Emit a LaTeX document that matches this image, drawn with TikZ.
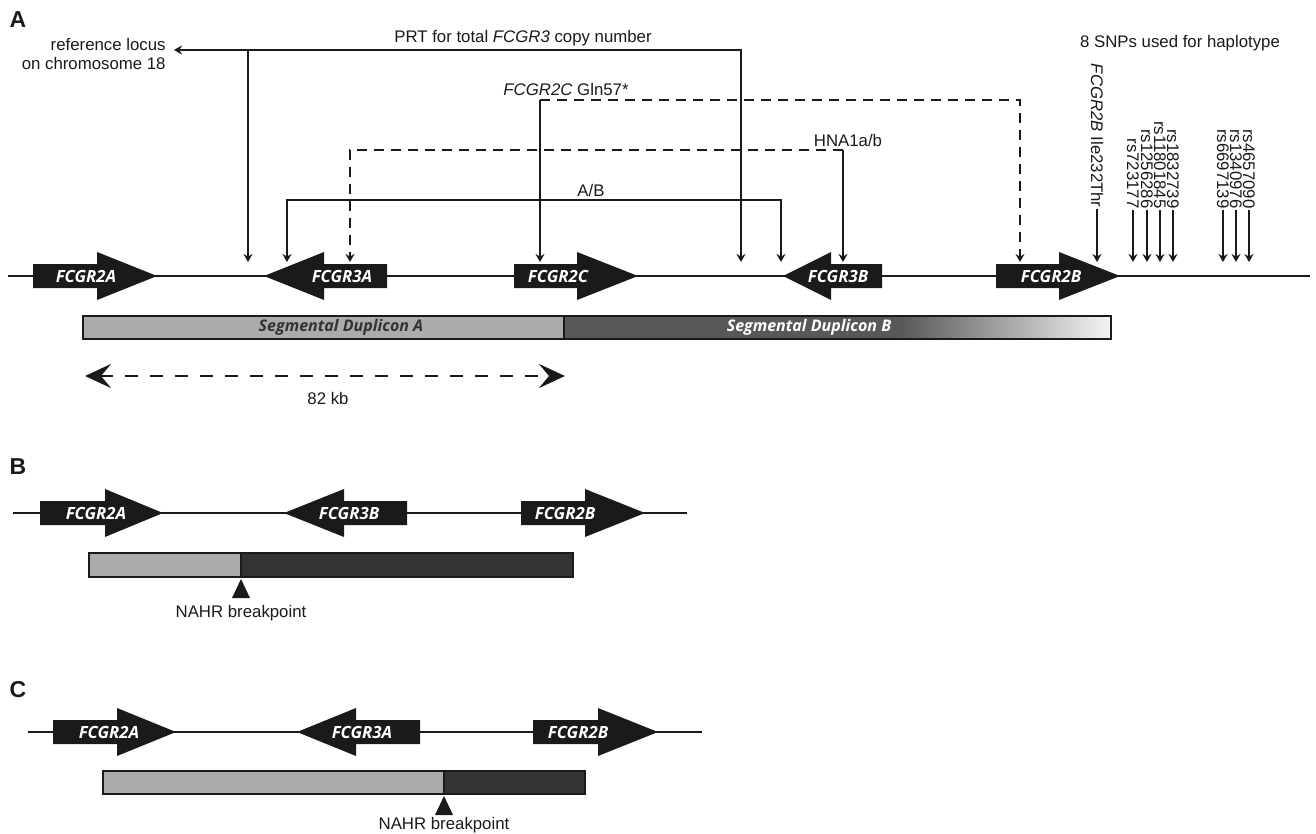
\documentclass[tikz,border=0pt]{standalone}
\usepackage{fontspec}
\setmainfont{Liberation Sans}
\newfontfamily\genefont{Open Sans}
\usetikzlibrary{arrows.meta}
\usetikzlibrary{positioning}
\usetikzlibrary{calc, shapes}

\definecolor{ink}{HTML}{1A1A1A}
\definecolor{dupA}{HTML}{ABABAB}
\definecolor{dupB}{HTML}{585858}
\definecolor{dupFade}{HTML}{F4F4F4}
\definecolor{dupDark}{HTML}{333333}
\definecolor{dupText}{HTML}{333333}

% gene arrow: name, tail, head base, tip, y, label x, label
\newcommand{\genearrow}[7]{%
  \fill[ink] (#2,#5-12) -- (#3,#5-12) -- (#3,#5-24) -- (#4,#5)
    -- (#3,#5+24) -- (#3,#5+12) -- (#2,#5+12) -- cycle;
  \node[gene node] (#1) at (#6,#5) {#7};}

\begin{document}
\begin{tikzpicture}[x=0.5pt,y=-0.5pt]
\tikzstyle{txt}=[font=\fontsize{8.4}{9.4}\selectfont,text=ink,inner sep=1pt]
\tikzstyle{panel}=[font=\bfseries\fontsize{11.5}{12}\selectfont,text=ink,inner sep=0]
\tikzstyle{snp}=[font=\fontsize{8.4}{9.4}\selectfont,text=ink,inner sep=0.5pt,rotate=-90]
\tikzset{
  >={Stealth[length=4pt,width=4.5pt]},
  gene node/.style = {font=\genefont\bfseries\itshape\fontsize{8.4}{9}\selectfont,text=white,inner sep=0},
  dup label/.style = {font=\genefont\bfseries\itshape\fontsize{8}{9}\selectfont,inner sep=0},
  chrom/.style = {draw=ink,line width=1.2pt},
  link/.style = {draw=ink,line width=0.7pt},
  dlink/.style = {link,dash pattern=on 5pt off 3.5pt},
  barline/.style = {draw=ink,line width=1.1pt},
  kb arrow/.style = {draw=ink,line width=1.3pt,dash pattern=on 6.5pt off 6pt,
    {Stealth[length=13pt,width=12pt,inset=5pt]}-{Stealth[length=13pt,width=12pt,inset=5pt]}}
}
\useasboundingbox (0,0) rectangle (1316,834);

%%%%%%%%%%%%%%%%%%%%%%%%%%%%%%%%%%% panel A
    \node[panel] (lblA) at (18,20) {A};
    \coordinate (chrA0) at (8,276);
    \coordinate (chrA1) at (1310,276);
    \draw[chrom] (chrA0) -- (chrA1);

    \genearrow{a2a}{33}{97}{157}{276}{86}{FCGR2A}
    \genearrow{a3a}{387}{324}{264}{276}{342}{FCGR3A}
    \genearrow{a2c}{514}{577}{638}{276}{558}{FCGR2C}
    \genearrow{a3b}{882}{831}{783}{276}{838}{FCGR3B}
    \genearrow{a2b}{996}{1059}{1120}{276}{1051}{FCGR2B}

    % duplicons
    \fill[dupA] (83,316) rectangle (564,339);
    \fill[dupB] (564,316) rectangle (900,339);
    \shade[left color=dupB,right color=dupFade] (900,316) rectangle (1111,339);
    \draw[barline] (83,316) rectangle (1111,339);
    \draw[barline] (564,316) -- (564,339);
    \node[dup label,text=dupText] (dupa) at (341,327.5) {Segmental Duplicon A};
    \node[dup label,text=white]   (dupb) at (809,327.5) {Segmental Duplicon B};

    \coordinate (kbL) at (85,376);
    \coordinate (kbR) at (565,376);
    \draw[kb arrow] (kbL) -- (kbR);
    \node[txt] (kb) at (328,398) {82 kb};

    %%%%%%%%%%%%%%%%%%%%%%%%%%%%%%%%%%% assays
    \node[txt,align=right,anchor=east] (ref) at (168,54) {reference locus\\on chromosome 18};
    \node[txt] (prt) at (523,38) {PRT for total \textit{FCGR3} copy number};
    \node[txt] (gln) at (566,89) {\textit{FCGR2C} Gln57*};
    \node[txt] (hna) at (848,140) {HNA1a/b};
    \node[txt] (ab)  at (591,190) {A/B};
    \node[txt] (snps) at (1180,43) {8 SNPs used for haplotype};

    \coordinate (refT) at (174,50);
    \coordinate (prtA) at (248,50);   \coordinate (prtAt) at (248,262);
    \coordinate (prtB) at (741,50);   \coordinate (prtBt) at (741,262);
    \coordinate (glnA) at (540,100);  \coordinate (glnAt) at (540,262);
    \coordinate (glnB) at (1020,100); \coordinate (glnBt) at (1020,262);
    \coordinate (hnaA) at (350,150);  \coordinate (hnaAt) at (350,262);
    \coordinate (hnaB) at (843,150);  \coordinate (hnaBt) at (843,262);
    \coordinate (abA) at (287,200);   \coordinate (abAt) at (287,262);
    \coordinate (abB) at (781,200);   \coordinate (abBt) at (781,262);

    \draw[link,<->] (refT) -- (prtB) -- (prtBt);
    \draw[link,->] (prtA) -- (prtAt);
    \draw[link,->] (glnA) -- (glnAt);
    \draw[dlink,->] (glnA) -- (glnB) -- (glnBt);
    \draw[dlink,->] (hnaB) -- (hnaA) -- (hnaAt);
    \draw[link,->] (hnaB) -- (hnaBt);
    \draw[link,<->] (abAt) -- (abA) -- (abB) -- (abBt);

    %%%%%%%%%%%%%%%%%%%%%%%%%%%%%%%%%%% SNPs
    \node[snp,anchor=east] (ile) at (1097,209) {\textit{FCGR2B} Ile232Thr};
    \node[snp,anchor=east] (s1) at (1133,210) {rs723177};
    \node[snp,anchor=east] (s2) at (1147,210) {rs1256286};
    \node[snp,anchor=east] (s3) at (1160,210) {rs11801845};
    \node[snp,anchor=east] (s4) at (1173,210) {rs1832739};
    \node[snp,anchor=east] (s5) at (1223,210) {rs6697139};
    \node[snp,anchor=east] (s6) at (1236,210) {rs1340976};
    \node[snp,anchor=east] (s7) at (1249,210) {rs4657090};
    \coordinate (ilet) at (1097,262);
    \coordinate (s1t) at (1133,262);
    \coordinate (s2t) at (1147,262);
    \coordinate (s3t) at (1160,262);
    \coordinate (s4t) at (1173,262);
    \coordinate (s5t) at (1223,262);
    \coordinate (s6t) at (1236,262);
    \coordinate (s7t) at (1249,262);
    \path
         (ile.east) edge[link,->] (ilet)
         (s1.east) edge[link,->] (s1t)
         (s2.east) edge[link,->] (s2t)
         (s3.east) edge[link,->] (s3t)
         (s4.east) edge[link,->] (s4t)
         (s5.east) edge[link,->] (s5t)
         (s6.east) edge[link,->] (s6t)
         (s7.east) edge[link,->] (s7t);

%%%%%%%%%%%%%%%%%%%%%%%%%%%%%%%%%%% panel B
    \node[panel] (lblB) at (18,467) {B};
    \coordinate (chrB0) at (13,513);
    \coordinate (chrB1) at (687,513);
    \draw[chrom] (chrB0) -- (chrB1);
    \genearrow{b2a}{40}{105}{163}{513}{96}{FCGR2A}
    \genearrow{b3b}{407}{344}{284}{513}{349}{FCGR3B}
    \genearrow{b2b}{521}{585}{645}{513}{565}{FCGR2B}
    \fill[dupA] (89,553) rectangle (241,577);
    \fill[dupDark] (241,553) rectangle (573,577);
    \draw[barline] (89,553) rectangle (573,577);
    \draw[barline] (241,553) -- (241,577);
    \fill[ink] (241,579) -- (250,598) -- (232,598) -- cycle;
    \node[txt] (nahrB) at (241,613) {NAHR breakpoint};

%%%%%%%%%%%%%%%%%%%%%%%%%%%%%%%%%%% panel C
    \node[panel] (lblC) at (18,690) {C};
    \coordinate (chrC0) at (28,732);
    \coordinate (chrC1) at (702,732);
    \draw[chrom] (chrC0) -- (chrC1);
    \genearrow{c2a}{53}{117}{176}{732}{109}{FCGR2A}
    \genearrow{c3a}{420}{356}{297}{732}{362}{FCGR3A}
    \genearrow{c2b}{533}{598}{658}{732}{578}{FCGR2B}
    \fill[dupA] (103,771) rectangle (444,794);
    \fill[dupDark] (444,771) rectangle (585,794);
    \draw[barline] (103,771) rectangle (585,794);
    \draw[barline] (444,771) -- (444,794);
    \fill[ink] (444,796) -- (453,815) -- (435,815) -- cycle;
    \node[txt] (nahrC) at (444,825) {NAHR breakpoint};
\end{tikzpicture}
\end{document}
